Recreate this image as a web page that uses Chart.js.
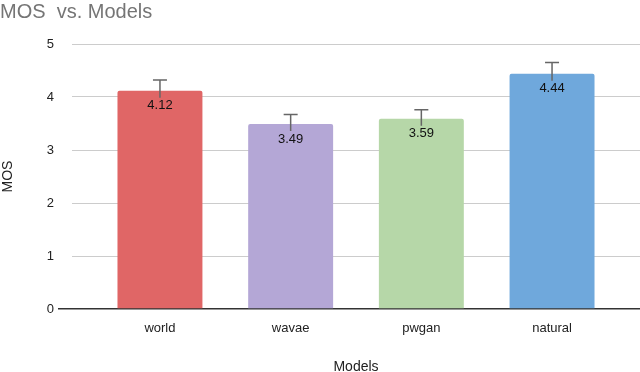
<!DOCTYPE html>
<html>
<head>
<meta charset="utf-8">
<script src="https://cdn.jsdelivr.net/npm/chart.js@4"></script>
<style>
  html, body { margin: 0; padding: 0; background: #fff; }
  #wrap { width: 640px; height: 372px; }
</style>
</head>
<body>
<div id="wrap"><canvas id="mosChart"></canvas></div>
<script>
const models = ["world", "wavae", "pwgan", "natural"];
const mos = [4.12, 3.49, 3.59, 4.44];
const mosErr = [0.2, 0.18, 0.17, 0.21];
const barColors = ["#e06666", "#b4a7d6", "#b6d7a8", "#6fa8dc"];
const yTicks = [0, 1, 2, 3, 4, 5];

// error bars + value labels drawn over the bars
const errorBars = {
  id: "errorBars",
  afterDatasetsDraw(chart) {
    const ctx = chart.ctx;
    const x = chart.scales.x;
    const y = chart.scales.y;
    ctx.save();
    mos.forEach((v, i) => {
      const cx = x.getPixelForValue(i);
      const top = y.getPixelForValue(v + mosErr[i]);
      const barTop = y.getPixelForValue(v);
      ctx.strokeStyle = "#666";
      ctx.lineWidth = 1.5;
      ctx.beginPath();
      ctx.moveTo(cx, top);
      ctx.lineTo(cx, barTop + 7);
      ctx.moveTo(cx - 7, top);
      ctx.lineTo(cx + 7, top);
      ctx.stroke();
      ctx.fillStyle = "#111";
      ctx.font = "13px 'Liberation Sans', Arial, sans-serif";
      ctx.textAlign = "center";
      ctx.textBaseline = "middle";
      ctx.fillText(v.toFixed(2), cx, barTop + 15);
    });
    ctx.restore();
  }
};

new Chart(document.getElementById("mosChart"), {
  type: "bar",
  data: {
    datasets: [{
      data: mos.map((v, i) => ({ x: i, y: v })),
      backgroundColor: barColors,
      borderRadius: { topLeft: 2, topRight: 2 },
      borderSkipped: "bottom",
      barPercentage: 0.65,
      categoryPercentage: 1
    }]
  },
  options: {
    responsive: true,
    maintainAspectRatio: false,
    animation: false,
    layout: { padding: { left: 0, right: 0, top: 0, bottom: 0 } },
    plugins: {
      legend: { display: false },
      tooltip: { enabled: false },
      title: {
        display: true,
        text: "MOS  vs. Models",
        align: "start",
        color: "#757575",
        font: { family: "'Liberation Sans', Arial, sans-serif", size: 20, weight: "normal" },
        padding: { top: 0, bottom: 20 }
      }
    },
    scales: {
      x: {
        type: "linear",
        offset: false,
        min: -0.673,
        max: 3.673,
        afterBuildTicks(scale) {
          scale.ticks = models.map((m, i) => ({ value: i }));
        },
        afterFit(scale) { scale.height = 63; },
        grid: { display: false },
        border: { display: false },
        ticks: {
          callback: (v) => models[v],
          color: "#222",
          padding: 4,
          maxRotation: 0,
          font: { family: "'Liberation Sans', Arial, sans-serif", size: 13 }
        },
        title: {
          display: true,
          text: "Models",
          color: "#222",
          padding: { top: 22, bottom: -4 },
          font: { family: "'Liberation Sans', Arial, sans-serif", size: 14 }
        }
      },
      y: {
        min: 0,
        max: 5,
        afterBuildTicks(scale) {
          scale.ticks = yTicks.map(v => ({ value: v }));
        },
        afterFit(scale) { scale.width = 72; },
        border: { display: false },
        grid: {
          color: (c) => c.tick && c.tick.value === 0 ? "#333" : "#cccccc",
          lineWidth: (c) => c.tick && c.tick.value === 0 ? 1.5 : 1,
          tickColor: (c) => c.tick && c.tick.value === 0 ? "#333" : "transparent",
          tickLength: 14
        },
        ticks: {
          color: "#222",
          padding: 4,
          font: { family: "'Liberation Sans', Arial, sans-serif", size: 13 }
        },
        title: {
          display: true,
          text: "MOS",
          color: "#222",
          padding: { top: 0, bottom: 4 },
          font: { family: "'Liberation Sans', Arial, sans-serif", size: 14 }
        }
      }
    }
  },
  plugins: [errorBars]
});
</script>
</body>
</html>
